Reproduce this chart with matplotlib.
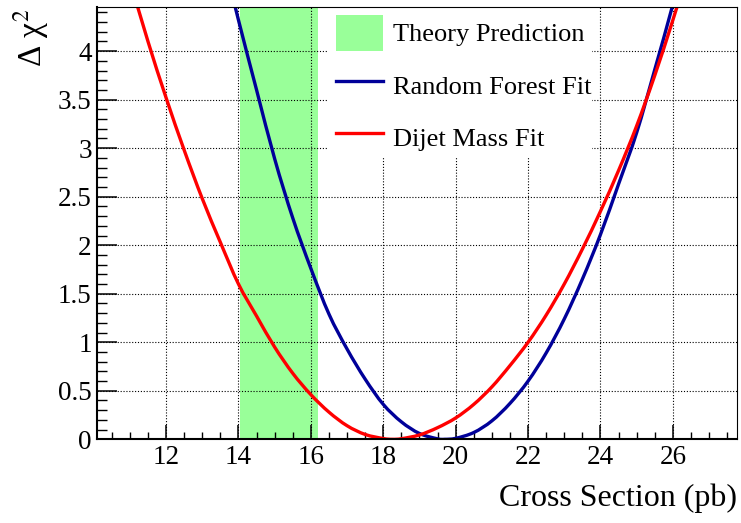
import matplotlib
matplotlib.use("Agg")
import matplotlib.pyplot as plt
from matplotlib.ticker import MultipleLocator, FuncFormatter
from matplotlib.patches import Rectangle, PathPatch
from matplotlib.lines import Line2D
from matplotlib.path import Path

plt.rcParams['font.family'] = ['Liberation Serif', 'DejaVu Serif']
plt.rcParams['mathtext.fontset'] = 'stix'

# ---- data ----
red_x = [11.0, 11.5, 12.0, 12.5, 13.0, 13.5, 14.0, 14.5, 15.0, 15.5, 16.0, 16.5,
         17.0, 17.5, 18.0, 18.25, 18.5, 19.0, 19.5, 20.0, 20.5, 21.0, 21.5, 22.0,
         22.5, 23.0, 23.5, 24.0, 24.5, 25.0, 25.5, 26.0, 26.5]
red_y = [4.73, 4.10, 3.52, 2.98, 2.48, 2.03, 1.60, 1.27, 0.95, 0.68, 0.46, 0.28,
         0.14, 0.05, 0.008, 0.0, 0.006, 0.045, 0.12, 0.22, 0.36, 0.54, 0.76, 1.0,
         1.28, 1.60, 1.96, 2.35, 2.77, 3.23, 3.75, 4.32, 4.92]

blue_x = [13.5, 14.0, 14.5, 15.0, 15.5, 16.0, 16.5, 17.0, 17.5, 18.0, 18.5, 19.0,
          19.5, 19.7, 20.0, 20.5, 21.0, 21.5, 22.0, 22.5, 23.0, 23.5, 24.0, 24.5,
          25.0, 25.5, 26.0, 26.5]
blue_y = [5.07, 4.32, 3.60, 2.89, 2.28, 1.76, 1.29, 0.93, 0.62, 0.36, 0.18, 0.06,
          0.005, 0.0, 0.01, 0.07, 0.19, 0.37, 0.60, 0.89, 1.24, 1.65, 2.11, 2.63,
          3.16, 3.81, 4.48, 5.20]

theory_low = 14.05
theory_high = 16.2

x_range = (10.1, 27.78)
y_range = (0.0, 4.455)

labels = ["Theory Prediction", "Random Forest Fit", "Dijet Mass Fit"]
colors = {"theory": "#99ff99", "rf": "#000099", "dijet": "#ff0000"}


def smooth_path(xs, ys):
    """Catmull-Rom curve through the read points, as cubic Bezier segments."""
    n = len(xs)
    verts = [(xs[0], ys[0])]
    codes = [Path.MOVETO]
    for i in range(n - 1):
        j0 = max(i - 1, 0)
        j3 = min(i + 2, n - 1)
        c1 = (xs[i] + (xs[i + 1] - xs[j0]) / 6.0, ys[i] + (ys[i + 1] - ys[j0]) / 6.0)
        c2 = (xs[i + 1] - (xs[j3] - xs[i]) / 6.0, ys[i + 1] - (ys[j3] - ys[i]) / 6.0)
        verts += [c1, c2, (xs[i + 1], ys[i + 1])]
        codes += [Path.CURVE4] * 3
    return Path(verts, codes)


# ---- figure ----
fig = plt.figure(figsize=(7.41, 5.23), dpi=100)
ax = fig.add_axes([97.3 / 741, 1 - 439.3 / 523, 640 / 741, 432.3 / 523])

ax.axvspan(theory_low, theory_high, color=colors["theory"], lw=0, zorder=1)
ax.grid(True, which='major', color='black', linestyle=(0, (1, 1.6)), linewidth=0.8, zorder=2)
ax.set_axisbelow(False)

# white legend background (covers grid)
ax.add_patch(Rectangle((0.3605, 0.651), 0.4125, 0.36, transform=ax.transAxes,
                       facecolor='white', edgecolor='none', zorder=3, clip_on=False))

ax.add_patch(PathPatch(smooth_path(blue_x, blue_y), facecolor='none',
                       edgecolor=colors["rf"], lw=2.4, zorder=4))
ax.add_patch(PathPatch(smooth_path(red_x, red_y), facecolor='none',
                       edgecolor=colors["dijet"], lw=2.4, zorder=5))

ax.set_xlim(*x_range)
ax.set_ylim(*y_range)

ax.xaxis.set_major_locator(MultipleLocator(2))
ax.xaxis.set_minor_locator(MultipleLocator(0.5))
ax.yaxis.set_major_locator(MultipleLocator(0.5))
ax.yaxis.set_minor_locator(MultipleLocator(0.1))
ax.yaxis.set_major_formatter(FuncFormatter(lambda v, p: "%g" % v))

ax.tick_params(axis='x', which='major', direction='in', length=10, width=1.1,
               labelsize=19.5, pad=4, top=False)
ax.tick_params(axis='x', which='minor', direction='in', length=5, width=1.0, top=False)
ax.tick_params(axis='y', which='major', direction='in', length=14.5, width=1.1,
               labelsize=19.5, pad=4, right=False)
ax.tick_params(axis='y', which='minor', direction='in', length=7.2, width=1.0, right=False)

for s in ['left', 'bottom']:
    ax.spines[s].set_linewidth(1.5)
for s in ['top', 'right']:
    ax.spines[s].set_linewidth(0.8)
for s in ax.spines.values():
    s.set_zorder(6)

ax.set_xlabel("Cross Section (pb)", fontsize=23, ha='right')
ax.xaxis.set_label_coords(1.0, -0.102)
ax.set_ylabel("Δ χ$^{2}$", fontsize=24, ha='right')
ax.yaxis.set_label_coords(-0.072, 0.995)

# legend
handles = [Rectangle((0, 0), 1, 1, facecolor=colors["theory"], edgecolor='none'),
           Line2D([], [], color=colors["rf"], lw=2.4),
           Line2D([], [], color=colors["dijet"], lw=2.4)]
leg = ax.legend(handles, labels, loc='upper left', bbox_to_anchor=(0.3605, 1.0),
                frameon=False, fontsize=19, handlelength=1.78, handleheight=1.72,
                labelspacing=0.62, handletextpad=0.38, borderaxespad=0.0, borderpad=0.3)
leg.set_zorder(7)

fig.savefig("out.png", dpi=100)
